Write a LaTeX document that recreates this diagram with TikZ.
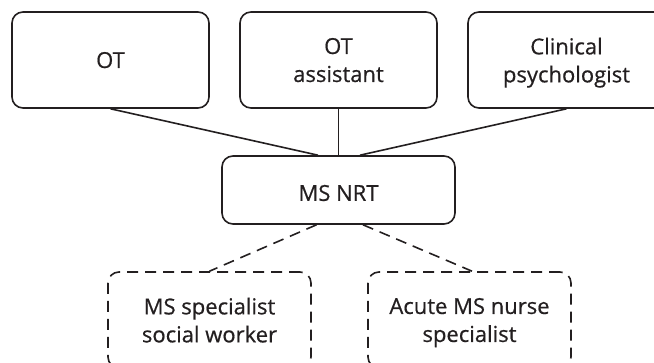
\documentclass[tikz,border=0pt]{standalone}
\usepackage{fontspec}
\setmainfont{Open Sans}[FakeBold=0.6]
\newfontfamily\diagfont{Open Sans}[FakeBold=0.6]
\usetikzlibrary{calc}
\definecolor{ink}{HTML}{231F20}
\begin{document}
\begin{tikzpicture}[x=1pt,y=1pt,
  box/.style={draw=ink, text=ink, line width=1.6pt, rounded corners=11pt,
    minimum width=197pt, minimum height=96pt, align=center,
    font=\diagfont\fontsize{22}{28}\selectfont, text depth=0pt, inner sep=0pt},
  dbox/.style={box, dash pattern=on 11pt off 7pt, minimum width=203pt},
  conn/.style={draw=ink, line width=1.6pt},
  dconn/.style={conn, dash pattern=on 11pt off 7pt}]
\useasboundingbox (0,0) rectangle (654,363);
\clip (0,0) rectangle (654,363);
\node[box] (ot) at (110.5,303) {OT};
\node[box] (ota) at (338.5,303) {OT\\assistant};
\node[box] (cp) at (566.5,303) {Clinical\\psychologist};
\node[box, minimum width=233pt, minimum height=68pt,
  label={[text=ink, font=\diagfont\fontsize{22}{28}\selectfont, yshift=-3pt]center:MS NRT}] (nrt) at (338.5,173) {};
\node[dbox] (sw) at (209.5,43) {MS specialist\\social worker};
\node[dbox] (ns) at (469.5,43) {Acute MS nurse\\specialist};
\draw[conn] (ot.south) -- ($(nrt.north)+(-20.5,0)$);
\draw[conn] (ota.south) -- (nrt.north);
\draw[conn] (cp.south) -- ($(nrt.north)+(21.5,0)$);
\draw[dconn] ($(nrt.south)+(-22,0)$) -- (sw.north);
\draw[dconn] ($(nrt.south)+(24.5,0)$) -- ($(ns.north)+(2.5,0)$);
\end{tikzpicture}
\end{document}
